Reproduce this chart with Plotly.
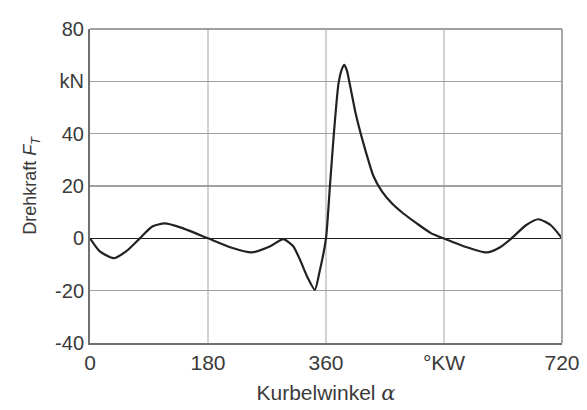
import plotly.graph_objects as go

# Crank angle (deg) and tangential force (kN)
angle = [0, 15, 36, 55, 76, 95, 114, 140, 180, 215, 247, 275, 295, 310, 320, 332,
         343, 350, 360, 366, 372, 379, 384, 388, 392, 397, 405, 413, 422, 432, 445, 460,
         478, 498, 520, 539, 570, 605, 625, 643, 665, 684, 703, 720]
force = [0, -5, -7.6, -5, 0, 4.5, 5.7, 4, 0, -3.5, -5.4, -3, -0.3, -3, -8, -15,
         -19.7, -13, 0, 20, 40, 59, 64.5, 66.3, 64, 58, 48, 40, 32, 24, 18, 13.5,
         9.5, 5.8, 2, 0, -3, -5.4, -3.5, 0, 5, 7.3, 5, 0]

x_tickvals = [0, 180, 360, 540, 720]
x_ticktext = ["0", "180", "360", "°KW", "720"]
y_tickvals = [-40, -20, 0, 20, 40, 60, 80]
y_ticktext = ["-40", "-20", "0", "20", "40", "kN", "80"]

font_family = "Liberation Sans, Arial, sans-serif"
txt_color = "#3a3a3a"

fig = go.Figure()
fig.add_trace(go.Scatter(x=angle, y=force, mode="lines",
                         line=dict(color="#222222", width=2.2, shape="spline", smoothing=0.6),
                         hoverinfo="skip", showlegend=False))

fig.update_layout(
    width=587, height=410,
    margin=dict(l=90, r=25, t=29, b=67),
    paper_bgcolor="white", plot_bgcolor="white",
    font=dict(family=font_family, size=20, color=txt_color),
    showlegend=False,
    xaxis=dict(range=[0, 720], tickvals=x_tickvals, ticktext=x_ticktext,
               showgrid=True, gridcolor="#d2d2d2", gridwidth=1.5,
               zeroline=False, showline=True, linecolor="#707070", linewidth=2,
               ticks="", ticklen=0, automargin=False, tickfont=dict(size=21),
               title=dict(text="Kurbelwinkel <span style='font-family:DejaVu Serif'><i>α</i></span>",
                          standoff=12, font=dict(size=21))),
    yaxis=dict(range=[-40, 80], tickvals=y_tickvals, ticktext=y_ticktext,
               showgrid=True, gridcolor="#a0a0a0", gridwidth=1.5,
               zeroline=True, zerolinecolor="#222222", zerolinewidth=1.5,
               showline=True, linecolor="#707070", linewidth=2,
               ticks="", ticklen=0, automargin=False, tickfont=dict(size=20),
               title=dict(text="Drehkraft <i>F</i><sub><i>T</i></sub>", standoff=14,
                          font=dict(size=18))),
)
fig.add_shape(type="line", xref="paper", yref="paper", x0=1, x1=1, y0=0, y1=1,
              line=dict(color="#a8a8a8", width=2))
fig.add_shape(type="line", xref="paper", yref="paper", x0=0, x1=1, y0=1, y1=1,
              line=dict(color="#a0a0a0", width=2))

fig.write_html("out.html", config={"displayModeBar": False, "staticPlot": True},
               post_script="document.body.style.margin='0';document.body.style.padding='0';")
